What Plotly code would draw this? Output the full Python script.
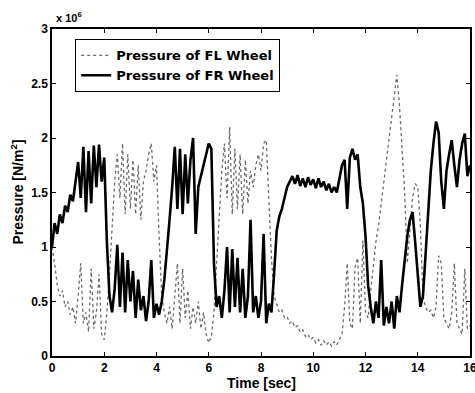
import plotly.graph_objects as go

# time axis (seconds), 0.1 s step
time_sec = [round(i * 0.1, 1) for i in range(161)]

# Pressure of FR wheel (x 10^6 N/m^2)
fr_pressure = [
    1.00, 1.22, 1.12, 1.30, 1.22, 1.38, 1.32, 1.48, 1.42, 1.62,
    1.78, 1.45, 1.92, 1.32, 1.88, 1.40, 1.93, 1.55, 1.94, 1.60,
    1.82, 1.05, 0.55, 0.40, 0.62, 1.02, 0.45, 0.95, 0.40, 0.88,
    0.50, 0.78, 0.35, 0.70, 0.42, 0.55, 0.32, 0.50, 0.88, 0.35,
    0.48, 0.38, 0.50, 0.70, 0.95, 1.25, 1.55, 1.92, 1.35, 1.90,
    1.30, 1.85, 1.40, 1.80, 2.00, 1.12, 1.55, 1.65, 1.75, 1.85,
    1.95, 1.90, 0.85, 0.45, 0.55, 0.35, 0.60, 1.00, 0.40, 0.98,
    0.45, 0.90, 0.40, 0.80, 0.35, 0.55, 1.25, 0.40, 0.55, 0.35,
    0.50, 1.12, 0.30, 0.48, 0.40, 0.75, 1.15, 1.28, 1.35, 1.45,
    1.55, 1.60, 1.65, 1.58, 1.66, 1.56, 1.63, 1.55, 1.64, 1.57,
    1.62, 1.54, 1.63, 1.55, 1.60, 1.52, 1.58, 1.50, 1.55, 1.50,
    1.62, 1.75, 1.80, 1.35, 1.82, 1.90, 1.80, 1.85, 1.55, 1.40,
    1.10, 0.65, 0.45, 0.30, 0.50, 0.35, 0.88, 0.28, 0.45, 0.30,
    0.50, 0.25, 0.55, 0.40, 0.65, 0.90, 1.10, 1.25, 1.32, 1.05,
    0.70, 0.45, 0.55, 0.95, 1.35, 1.70, 1.95, 2.15, 2.05, 1.60,
    1.35, 1.70, 1.85, 1.98, 1.75, 1.55, 1.80, 1.95, 2.04, 1.65,
    1.75,
]

# Pressure of FL wheel (x 10^6 N/m^2)
fl_pressure = [
    1.00, 0.85, 0.65, 0.55, 0.60, 0.45, 0.50, 0.38, 0.45, 0.30,
    0.55, 0.85, 0.30, 0.40, 0.22, 0.80, 0.25, 0.40, 0.75, 0.20,
    0.15, 0.40, 0.75, 1.20, 1.60, 1.85, 1.45, 1.95, 1.30, 1.85,
    1.35, 1.80, 1.30, 1.75, 1.25, 1.60, 1.70, 1.85, 1.95, 1.60,
    1.75, 1.10, 0.55, 0.40, 0.30, 0.45, 0.25, 0.55, 0.85, 0.30,
    0.80, 0.35, 0.60, 0.25, 0.45, 0.30, 0.50, 0.25, 0.40, 0.20,
    0.12, 0.18, 0.40, 0.85, 1.30, 1.70, 1.95, 1.45, 2.10, 1.30,
    1.90, 1.35, 1.85, 1.30, 1.80, 1.40, 1.70, 1.55, 1.75, 1.85,
    1.70, 1.95, 1.98, 1.40, 0.90, 0.55, 0.48, 0.40, 0.42, 0.35,
    0.36, 0.30, 0.32, 0.26, 0.28, 0.22, 0.24, 0.18, 0.20, 0.15,
    0.17, 0.12, 0.15, 0.10, 0.14, 0.10, 0.13, 0.09, 0.13, 0.10,
    0.15, 0.20, 0.45, 0.85, 0.30, 0.25, 0.82, 0.90, 0.30, 1.06,
    0.40, 0.35, 0.60, 0.85, 1.05, 1.20, 1.40, 1.55, 1.75, 1.95,
    2.15, 2.40, 2.58, 2.30, 1.90, 1.50, 0.85, 1.15, 1.45, 1.58,
    1.55, 1.20, 0.55, 0.45, 0.40, 0.42, 0.35, 0.45, 0.92, 0.85,
    0.35, 0.30, 0.25, 0.40, 0.85, 0.30, 0.25, 0.20, 0.80, 0.25,
    0.28,
]

x_ticks = [0, 2, 4, 6, 8, 10, 12, 14, 16]
y_ticks = [0, 0.5, 1, 1.5, 2, 2.5, 3]
y_tick_labels = ["0", "0.5", "1", "1.5", "2", "2.5", "3"]

FONT = "Liberation Sans, Arial, sans-serif"
LEG_FONT = "DejaVu Sans, Liberation Sans, sans-serif"

fig = go.Figure()
fig.add_trace(go.Scatter(
    x=time_sec, y=fl_pressure, mode="lines",
    name="<b>Pressure of FL Wheel</b>",
    line=dict(color="#6a6a6a", width=1.3, dash="dot"),
))
fig.add_trace(go.Scatter(
    x=time_sec, y=fr_pressure, mode="lines",
    name="<b>Pressure of FR Wheel</b>",
    line=dict(color="#000000", width=2.6),
))

axis_common = dict(
    showgrid=False, zeroline=False, showline=True, linecolor="black",
    linewidth=1.5, mirror="ticks", ticks="inside", ticklen=4,
    tickcolor="black", tickwidth=1, automargin=False,
    ticklabeloverflow="allow",
    tickfont=dict(family=FONT, size=12, color="black", weight="bold"),
)

fig.update_layout(
    width=475, height=393,
    margin=dict(l=52, r=5, t=29, b=37),
    paper_bgcolor="white", plot_bgcolor="white",
    font=dict(family=FONT, color="black"),
    showlegend=True,
    legend=dict(
        x=0.055, y=0.969, xanchor="left", yanchor="top",
        bgcolor="white", bordercolor="black", borderwidth=1.2,
        font=dict(family=LEG_FONT, size=13, color="black"),
        tracegroupgap=0, itemwidth=30,
    ),
    xaxis=dict(
        range=[0, 16], tickvals=x_ticks,
        **axis_common,
    ),
    yaxis=dict(
        range=[0, 3], tickvals=y_ticks, ticktext=y_tick_labels,
        **axis_common,
    ),
    annotations=[
        dict(text="<b>x 10<sup>6</sup></b>", xref="paper", yref="paper",
             x=0.0, y=1.0, xanchor="left", yanchor="bottom", showarrow=False,
             xshift=2, yshift=3,
             font=dict(family=FONT, size=11, color="black")),
        dict(text="<b>Time [sec]</b>", xref="paper", yref="paper",
             x=0.5, y=0, xanchor="center", yanchor="top", showarrow=False,
             yshift=-17,
             font=dict(family=FONT, size=14, color="black")),
        dict(text="<b>Pressure [N/m<sup>2</sup>]</b>", xref="paper", yref="paper",
             x=0, y=0.5, xanchor="right", yanchor="middle", showarrow=False,
             xshift=-24, textangle=-90,
             font=dict(family=FONT, size=14, color="black")),
    ],
)

# remove the browser's default 8px page margin so the figure sits at (0, 0)
fig.write_html(
    "out.html",
    config={"displayModeBar": False},
    post_script="document.body.style.margin='0';",
)
